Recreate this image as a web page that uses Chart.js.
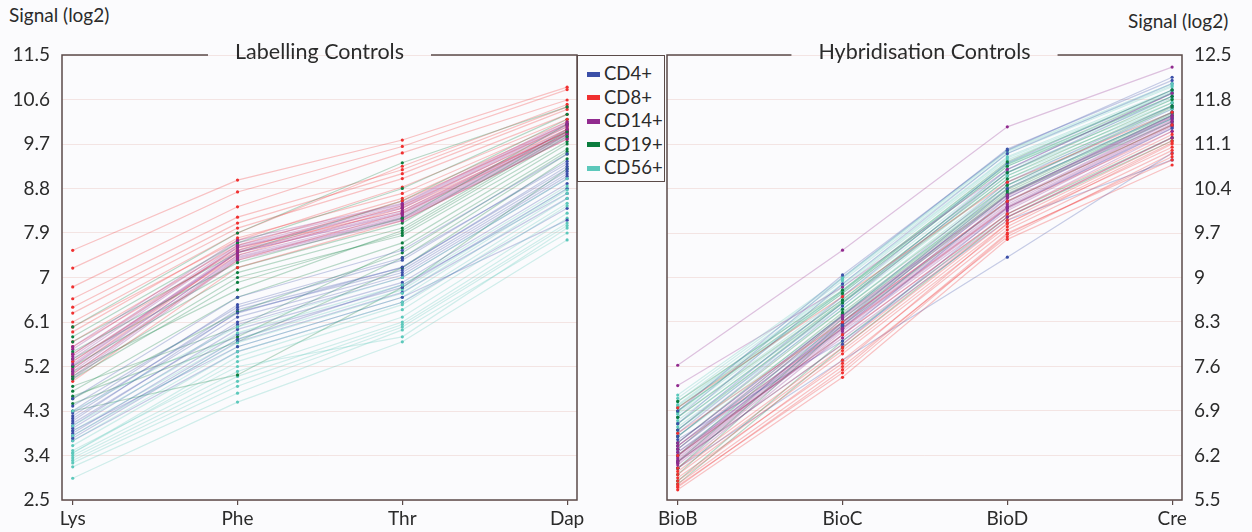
<!DOCTYPE html>
<html>
<head>
<meta charset="utf-8">
<script src="https://cdn.jsdelivr.net/npm/chart.js@4.4.1/dist/chart.umd.min.js"></script>
<style>
  body { margin: 0; background: #fbfbfd; width: 1252px; height: 532px; overflow: hidden; position: relative; font-family: Lato, "Noto Sans", sans-serif; color: #2b2b2b; }
  canvas { position: absolute; top: 0; }
  #left { left: 0; }
  #right { left: 600px; }
  .axis-title { position: absolute; font-size: 19px; top: 3px; }
  #legend { position: absolute; left: 577px; top: 55px; width: 88px; height: 127px; border: 1.5px solid #5b4b49; background: #fbfbfd; box-sizing: border-box; padding-top: 6px; }
  .item { height: 23.5px; line-height: 23.5px; font-size: 18.5px; padding-left: 9px; white-space: nowrap; }
  .swatch { display: inline-block; width: 13px; height: 5px; margin-right: 4px; vertical-align: middle; position: relative; top: -1px; }
</style>
</head>
<body>
<div class="axis-title" style="left:9px">Signal (log2)</div>
<div class="axis-title" style="left:1128px; top:9px">Signal (log2)</div>
<canvas id="left" width="600" height="532"></canvas>
<canvas id="right" width="652" height="532"></canvas>
<div id="legend"></div>
<script>
// categories and tick labels
const labellingCats = ['Lys', 'Phe', 'Thr', 'Dap'];
const hybridCats = ['BioB', 'BioC', 'BioD', 'Cre'];
const labellingTicks = [2.5, 3.4, 4.3, 5.2, 6.1, 7, 7.9, 8.8, 9.7, 10.6, 11.5];
const hybridTicks = [5.5, 6.2, 6.9, 7.6, 8.3, 9, 9.7, 10.4, 11.1, 11.8, 12.5];
const groups = ['CD4+', 'CD8+', 'CD14+', 'CD19+', 'CD56+'];
const groupColours = ['59,79,168', '240,48,48', '145,43,143', '11,125,62', '92,200,187'];

// Labelling controls, one row per sample: Lys, Phe, Thr, Dap
const cd4Labelling = [
  [4.55, 6.60, 7.55, 9.50], [4.40, 6.40, 7.35, 9.35], [4.26, 6.28, 7.21, 9.20],
  [4.15, 6.20, 7.10, 9.10], [4.05, 6.05, 7.00, 9.00], [3.95, 5.95, 6.90, 8.90],
  [3.85, 5.85, 6.80, 8.80], [3.75, 5.70, 6.70, 8.60], [4.10, 6.30, 7.15, 9.15],
  [3.90, 5.60, 6.60, 8.16], [4.20, 6.35, 7.20, 9.25], [4.00, 6.10, 7.05, 9.05],
  [3.80, 5.75, 6.85, 8.70], [4.30, 6.45, 7.40, 9.30], [3.70, 5.50, 6.50, 8.40]
];
const cd8Labelling = [
  [7.55, 8.97, 9.78, 10.85], [7.19, 8.73, 9.65, 10.80], [6.81, 8.43, 9.52, 10.59],
  [6.57, 8.22, 9.18, 10.45], [6.28, 8.00, 9.00, 10.30], [6.00, 7.75, 8.83, 10.20],
  [5.60, 7.55, 8.55, 10.05], [5.30, 7.45, 8.40, 9.95], [5.05, 7.35, 8.30, 9.90],
  [4.90, 7.20, 8.15, 9.80], [5.15, 7.50, 8.45, 10.00], [5.45, 7.60, 8.35, 9.95],
  [6.40, 8.10, 9.10, 10.40], [5.90, 7.80, 8.70, 10.15], [5.70, 7.65, 8.60, 10.10],
  [6.10, 7.90, 9.25, 10.50]
];
const cd14Labelling = [
  [5.60, 7.75, 8.50, 10.15], [5.45, 7.65, 8.45, 10.10], [5.35, 7.60, 8.40, 10.05],
  [5.25, 7.55, 8.35, 10.00], [5.20, 7.50, 8.30, 9.95], [5.10, 7.45, 8.25, 9.90],
  [5.05, 7.40, 8.20, 9.85], [4.95, 7.35, 8.15, 9.80], [5.30, 7.50, 8.28, 9.92],
  [5.15, 7.42, 8.22, 9.88], [5.40, 7.62, 8.42, 10.08], [5.00, 7.38, 8.18, 9.82],
  [5.55, 7.70, 8.48, 10.12], [5.22, 7.52, 8.32, 9.97]
];
const cd19Labelling = [
  [6.00, 7.90, 9.32, 10.45], [5.80, 7.70, 8.80, 10.30], [5.50, 7.30, 8.20, 10.10],
  [5.20, 7.10, 8.00, 9.95], [4.95, 6.90, 7.90, 9.85], [4.70, 6.60, 7.70, 9.70],
  [4.55, 6.30, 7.50, 9.55], [4.45, 5.70, 7.20, 9.40], [4.30, 5.03, 6.80, 9.20],
  [5.00, 7.00, 7.85, 9.75], [5.70, 7.50, 8.55, 10.20], [5.10, 6.75, 7.95, 9.90],
  [4.80, 6.00, 7.60, 9.60], [5.35, 7.20, 8.10, 10.00], [4.60, 5.80, 7.40, 9.50]
];
const cd56Labelling = [
  [4.30, 6.00, 7.00, 9.00], [4.00, 5.88, 6.85, 8.85], [3.80, 5.68, 6.68, 8.77],
  [3.60, 5.50, 6.50, 8.60], [3.45, 5.30, 6.35, 8.45], [3.40, 5.10, 6.20, 8.30],
  [3.30, 4.90, 6.05, 8.10], [3.17, 4.66, 5.94, 7.90], [2.94, 4.48, 5.70, 7.76],
  [3.50, 5.20, 5.80, 8.00], [3.70, 5.60, 6.60, 8.70], [3.45, 5.40, 6.45, 8.50],
  [3.35, 5.00, 6.10, 8.20], [3.25, 4.80, 6.00, 8.05], [3.90, 5.75, 6.75, 8.80]
];

// Hybridisation controls: BioB, BioC, BioD, Cre
const cd4Hybrid = [
  [6.90, 9.04, 11.00, 12.15], [6.70, 8.90, 10.95, 12.05], [6.60, 8.70, 10.80, 11.95],
  [6.50, 8.55, 10.65, 11.85], [6.40, 8.40, 10.50, 11.70], [6.30, 8.25, 10.40, 11.60],
  [6.20, 8.10, 10.25, 11.50], [6.10, 7.95, 10.10, 11.35], [6.00, 7.70, 9.32, 10.96],
  [6.45, 8.00, 9.90, 10.85], [6.55, 8.60, 10.70, 11.90], [6.35, 8.30, 10.45, 11.65],
  [6.25, 8.20, 10.30, 11.55], [6.80, 9.00, 11.02, 12.10]
];
const cd8Hybrid = [
  [6.95, 8.70, 10.50, 11.60], [6.55, 8.30, 10.20, 11.40], [6.20, 8.10, 10.00, 11.25],
  [6.00, 7.90, 9.90, 11.15], [5.90, 7.80, 9.80, 11.10], [5.80, 7.70, 9.75, 11.00],
  [5.75, 7.60, 9.64, 10.95], [5.70, 7.55, 9.70, 10.85], [5.66, 7.43, 9.60, 10.77],
  [5.85, 7.65, 9.85, 11.05], [6.10, 7.95, 9.95, 11.20], [5.95, 7.85, 9.85, 11.12],
  [6.35, 8.20, 10.10, 11.30], [5.72, 7.50, 9.68, 10.90]
];
const cd14Hybrid = [
  [7.62, 9.43, 11.37, 12.31], [7.30, 8.85, 10.70, 11.90], [6.40, 8.40, 10.30, 11.55],
  [6.30, 8.35, 10.25, 11.52], [6.20, 8.30, 10.20, 11.48], [6.15, 8.25, 10.15, 11.45],
  [6.10, 8.20, 10.10, 11.40], [6.05, 8.15, 10.05, 11.35], [6.00, 8.10, 10.00, 11.30],
  [6.25, 8.05, 9.95, 11.20], [6.35, 8.38, 10.28, 11.53], [6.18, 8.28, 10.18, 11.46],
  [6.08, 8.18, 10.08, 11.38], [6.12, 8.22, 10.12, 11.42]
];
const cd19Hybrid = [
  [7.05, 8.80, 10.82, 11.95], [6.90, 8.75, 10.75, 11.85], [6.80, 8.65, 10.65, 11.80],
  [6.60, 8.60, 10.55, 11.70], [6.50, 8.50, 10.45, 11.68], [6.40, 8.45, 10.40, 11.60],
  [6.20, 8.40, 10.35, 11.55], [6.00, 8.30, 10.30, 11.45], [5.90, 8.25, 10.20, 11.40],
  [5.80, 8.00, 10.00, 11.20], [6.70, 8.62, 10.60, 11.75], [6.30, 8.42, 10.38, 11.58],
  [6.10, 8.35, 10.32, 11.50], [6.95, 8.78, 10.78, 11.90], [5.75, 7.90, 9.95, 11.15]
];
const cd56Hybrid = [
  [7.15, 9.00, 11.00, 12.05], [7.05, 8.95, 10.95, 12.00], [7.00, 8.90, 10.90, 11.95],
  [6.95, 8.85, 10.85, 11.90], [6.90, 8.80, 10.80, 11.85], [6.85, 8.75, 10.75, 11.80],
  [6.80, 8.70, 10.70, 11.75], [6.70, 8.60, 10.60, 11.65], [6.60, 8.50, 10.50, 11.55],
  [6.50, 8.40, 10.45, 11.50], [7.10, 8.98, 10.98, 12.02], [6.98, 8.88, 10.88, 11.92],
  [6.88, 8.78, 10.78, 11.82], [6.75, 8.65, 10.65, 11.70], [6.65, 8.55, 10.55, 11.60]
];

const FONT = 'Lato, "Noto Sans", sans-serif';
const INK = '#2b2b2b';
const FRAME = '#5b4b49';

// legend
const legendEl = document.getElementById('legend');
groups.forEach((g, i) => {
  const row = document.createElement('div');
  row.className = 'item';
  row.innerHTML = `<span class="swatch" style="background:rgb(${groupColours[i]})"></span>${g}`;
  legendEl.appendChild(row);
});

// one dataset per sample line, interleaved so colours mix
function buildDatasets(perGroup) {
  const out = [];
  const maxLen = Math.max(...perGroup.map(a => a.length));
  for (let k = 0; k < maxLen; k++) {
    perGroup.forEach((rows, gi) => {
      if (!rows[k]) return;
      out.push({
        label: groups[gi],
        data: rows[k].map((v, i) => ({ x: i, y: v })),
        borderColor: `rgba(${groupColours[gi]},0.28)`,
        borderWidth: 1.2,
        pointRadius: 1.6,
        pointBackgroundColor: `rgb(${groupColours[gi]})`,
        pointBorderWidth: 0,
        tension: 0,
      });
    });
  }
  return out;
}

// frame with title set into the top line
const framePlugin = {
  id: 'frame',
  afterDraw(chart, args, opts) {
    const { ctx, chartArea: a } = chart;
    ctx.save();
    ctx.font = `21.5px ${FONT}`;
    const tw = ctx.measureText(opts.title).width;
    const cx = (a.left + a.right) / 2;
    const gap = tw / 2 + 27;
    ctx.strokeStyle = FRAME;
    ctx.lineWidth = 1.5;
    ctx.beginPath();
    ctx.moveTo(cx - gap, a.top);
    ctx.lineTo(a.left, a.top);
    ctx.lineTo(a.left, a.bottom);
    ctx.lineTo(a.right, a.bottom);
    ctx.lineTo(a.right, a.top);
    ctx.lineTo(cx + gap, a.top);
    ctx.stroke();
    ctx.fillStyle = INK;
    ctx.textAlign = 'center';
    ctx.textBaseline = 'middle';
    ctx.fillText(opts.title, cx, a.top - 3);
    ctx.restore();
  }
};

function makeChart(id, cats, ticks, perGroup, title, yPos, padding) {
  const fixTicks = vals => scale => { scale.ticks = vals.map(v => ({ value: v })); };
  new Chart(document.getElementById(id), {
    type: 'line',
    data: { datasets: buildDatasets(perGroup) },
    plugins: [framePlugin],
    options: {
      responsive: false,
      animation: false,
      layout: { padding },
      plugins: { legend: { display: false }, tooltip: { enabled: false }, frame: { title } },
      scales: {
        x: {
          type: 'linear',
          min: -0.065,
          max: 3.06,
          afterBuildTicks: fixTicks([0, 1, 2, 3]),
          afterFit: s => { s.height = 32; },
          ticks: { callback: v => cats[v], font: { family: FONT, size: 19 }, color: INK, padding: 2, maxRotation: 0 },
          grid: { drawOnChartArea: false, tickLength: 5, color: FRAME, lineWidth: 1.2 },
          border: { display: false },
        },
        y: {
          position: yPos,
          min: ticks[0],
          max: ticks[ticks.length - 1],
          afterBuildTicks: fixTicks(ticks),
          afterFit: s => { s.width = yPos === 'left' ? 62 : 70; },
          ticks: { callback: v => String(v), font: { family: FONT, size: 19 }, color: INK, padding: 12 },
          grid: { color: 'rgba(232,200,196,0.45)', drawTicks: false, lineWidth: 1 },
          border: { display: false },
        },
      },
    },
  });
}

makeChart('left', labellingCats, labellingTicks,
  [cd4Labelling, cd8Labelling, cd14Labelling, cd19Labelling, cd56Labelling],
  'Labelling Controls', 'left', { top: 55, right: 23, left: 0, bottom: 0 });

makeChart('right', hybridCats, hybridTicks,
  [cd4Hybrid, cd8Hybrid, cd14Hybrid, cd19Hybrid, cd56Hybrid],
  'Hybridisation Controls', 'right', { top: 55, right: 0, left: 67, bottom: 0 });
</script>
</body>
</html>
